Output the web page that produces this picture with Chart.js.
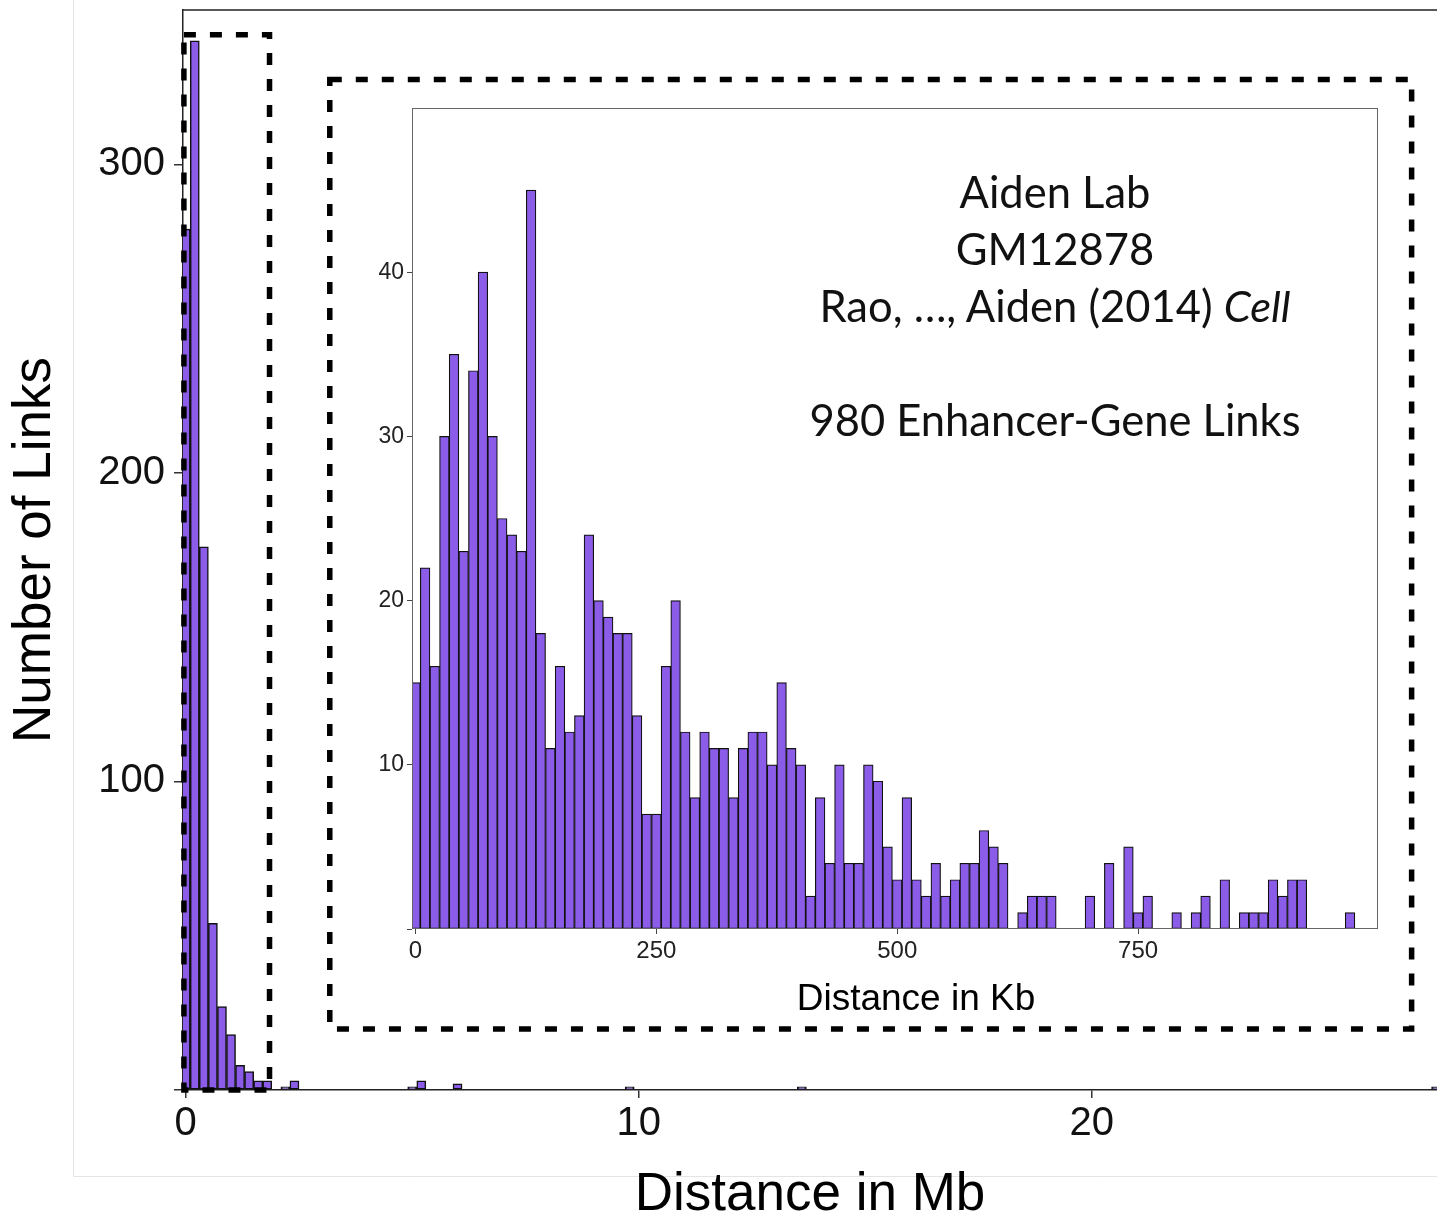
<!DOCTYPE html>
<html>
<head>
<meta charset="utf-8">
<script src="https://cdn.jsdelivr.net/npm/chart.js@4.4.1/dist/chart.umd.min.js"></script>
<style>
    html, body { margin: 0; padding: 0; background: #fff; }
    #stage { position: relative; width: 1437px; height: 1219px; overflow: hidden; }
    #main { position: absolute; left: 0; top: 0; }
    #inset { position: absolute; left: 340px; top: 100px; }
    #note {
        position: absolute; left: 780px; top: 163px; width: 550px;
        text-align: center; font-family: Lato, "Open Sans", sans-serif;
        font-size: 43.5px; line-height: 57px; color: #111;
    }
</style>
</head>
<body>
<div id="stage">
    <canvas id="main" width="1437" height="1219"></canvas>
    <canvas id="inset" width="1060" height="920"></canvas>
    <div id="note">
        Aiden Lab<br>
        GM12878<br>
        Rao, …, Aiden (2014) <i>Cell</i><br>
        <br>
        980 Enhancer-Gene Links
    </div>
</div>
<script>
    // main histogram, 0.2 Mb bins (empty bins left out)
    const mainBinCentersMb = [0, 0.2, 0.4, 0.6, 0.8, 1.0, 1.2, 1.4, 1.6, 1.8, 2.2, 2.4, 5.0, 5.2, 6.0, 9.8, 13.6, 27.6];
    const mainCounts = [279, 340, 176, 54, 27, 18, 8, 6, 3, 3, 1, 3, 1, 3, 2, 1, 1, 1];
    const mainXTicks = [0, 10, 20];
    const mainYTicks = [0, 100, 200, 300];

    // inset histogram, 10 Kb bins starting at 0 Kb
    const insetBinKb = 10;
    const insetCounts = [
        15, 22, 16, 30, 35, 23, 34, 40, 30, 25,
        24, 23, 45, 18, 11, 16, 12, 13, 24, 20,
        19, 18, 18, 13, 7, 7, 16, 20, 12, 8,
        12, 11, 11, 8, 11, 12, 12, 10, 15, 11,
        10, 2, 8, 4, 10, 4, 4, 10, 9, 5,
        3, 8, 3, 2, 4, 2, 3, 4, 4, 6,
        5, 4, 0, 1, 2, 2, 2, 0, 0, 0,
        2, 0, 4, 0, 5, 1, 2, 0, 0, 1,
        0, 1, 2, 0, 3, 0, 1, 1, 1, 3,
        2, 3, 3, 0, 0, 0, 0, 1
    ];
    const insetXTicks = [0, 250, 500, 750];
    const insetYTicks = [0, 10, 20, 30, 40];

    // zoom boxes, in data units of the main chart
    const zoomBoxes = [
        { x0: -0.04, x1: 1.85, y0: 0, y1: 342 },
        { x0: 3.18, x1: 27.06, y0: 19.8, y1: 327.5 }
    ];

    const barFill = "#8a5ce8";
    const sans = "'Liberation Sans', Arial, sans-serif";

    function noScalePadding(axis) {
        axis.paddingTop = 0;
        axis.paddingBottom = 0;
        axis.paddingLeft = 0;
        axis.paddingRight = 0;
    }

    const mainDecor = {
        id: "mainDecor",
        beforeDraw(chart) {
            const ctx = chart.ctx;
            ctx.save();
            ctx.strokeStyle = "#e4e4e4";
            ctx.lineWidth = 1;
            ctx.beginPath();
            ctx.moveTo(73.5, 0);
            ctx.lineTo(73.5, 1176.5);
            ctx.lineTo(1437, 1176.5);
            ctx.stroke();
            ctx.restore();
        },
        afterDraw(chart) {
            const { ctx, chartArea, scales } = chart;
            ctx.save();
            ctx.strokeStyle = "#222";
            ctx.lineWidth = 1.5;
            ctx.beginPath();
            ctx.moveTo(chartArea.left, chartArea.top);
            ctx.lineTo(chartArea.right, chartArea.top);
            ctx.stroke();

            ctx.strokeStyle = "#000";
            ctx.lineWidth = 5.5;
            ctx.setLineDash([12, 14]);
            zoomBoxes.forEach(box => {
                const left = scales.x.getPixelForValue(box.x0);
                const right = scales.x.getPixelForValue(box.x1);
                const top = scales.y.getPixelForValue(box.y1);
                const bottom = scales.y.getPixelForValue(box.y0);
                ctx.strokeRect(left, top, right - left, bottom - top);
            });
            ctx.restore();
        }
    };

    const insetFrame = {
        id: "insetFrame",
        afterDraw(chart) {
            const { ctx, chartArea } = chart;
            ctx.save();
            ctx.strokeStyle = "#666";
            ctx.lineWidth = 1;
            ctx.strokeRect(chartArea.left + 0.5, chartArea.top + 0.5,
                chartArea.right - chartArea.left - 1, chartArea.bottom - chartArea.top - 1);

            // x axis title, set a little right of the panel centre as in the source figure
            ctx.fillStyle = "#000";
            ctx.font = "37px " + sans;
            ctx.textAlign = "center";
            ctx.textBaseline = "middle";
            ctx.fillText("Distance in Kb", (chartArea.left + chartArea.right) / 2 + 21, chartArea.bottom + 71);
            ctx.restore();
        }
    };

    new Chart(document.getElementById("main"), {
        type: "bar",
        data: {
            datasets: [{
                data: mainBinCentersMb.map((x, i) => ({ x, y: mainCounts[i] })),
                backgroundColor: barFill,
                borderColor: "#111",
                borderWidth: 1.5,
                borderSkipped: false,
                barPercentage: 1,
                categoryPercentage: 1
            }]
        },
        options: {
            responsive: false,
            animation: false,
            layout: { padding: { top: 10, right: 0, left: 0, bottom: 0 } },
            plugins: { legend: { display: false }, tooltip: { enabled: false } },
            scales: {
                x: {
                    type: "linear",
                    min: -0.06,
                    max: 27.62,
                    offset: false,
                    afterBuildTicks: axis => { axis.ticks = mainXTicks.map(value => ({ value })); },
                    afterFit: axis => { axis.height = 129; noScalePadding(axis); },
                    grid: { offset: false, drawOnChartArea: false, tickLength: 8, color: "#333", lineWidth: 1.5 },
                    border: { display: true, color: "#222", width: 1.5 },
                    ticks: { font: { family: sans, size: 40 }, color: "#111", padding: 2, maxRotation: 0, autoSkip: false },
                    title: { display: true, text: "Distance in Mb", color: "#000", padding: 0,
                        font: { family: sans, size: 53, lineHeight: 0.9 } }
                },
                y: {
                    min: 0,
                    max: 350,
                    afterBuildTicks: axis => { axis.ticks = mainYTicks.map(value => ({ value })); },
                    afterFit: axis => { axis.width = 183; noScalePadding(axis); },
                    grid: { drawOnChartArea: false, tickLength: 9, color: "#333", lineWidth: 1.5 },
                    border: { display: true, color: "#222", width: 1.5 },
                    ticks: { font: { family: sans, size: 40 }, color: "#111", padding: 9,
                        callback: value => value === 0 ? "" : value },
                    title: { display: true, text: "Number of Links", color: "#000", padding: { top: 4, bottom: 0 },
                        font: { family: sans, size: 53, lineHeight: 1.2 } }
                }
            }
        },
        plugins: [mainDecor]
    });

    new Chart(document.getElementById("inset"), {
        type: "bar",
        data: {
            datasets: [{
                data: insetCounts.map((count, i) => ({ x: i * insetBinKb, y: count || null })),
                backgroundColor: barFill,
                borderColor: "#111",
                borderWidth: 1.2,
                borderSkipped: false,
                barPercentage: 1,
                categoryPercentage: 1
            }]
        },
        options: {
            responsive: false,
            animation: false,
            layout: { padding: { top: 8, right: 22, left: 0, bottom: 0 } },
            plugins: { legend: { display: false }, tooltip: { enabled: false } },
            scales: {
                x: {
                    type: "linear",
                    min: -3.6,
                    max: 999,
                    offset: false,
                    afterBuildTicks: axis => { axis.ticks = insetXTicks.map(value => ({ value })); },
                    afterFit: axis => { axis.height = 91; noScalePadding(axis); },
                    grid: { offset: false, drawOnChartArea: false, tickLength: 5, color: "#444" },
                    border: { display: false },
                    ticks: { font: { family: sans, size: 24 }, color: "#222", padding: 3, maxRotation: 0, autoSkip: false }
                },
                y: {
                    min: 0,
                    max: 50,
                    afterBuildTicks: axis => { axis.ticks = insetYTicks.map(value => ({ value })); },
                    afterFit: axis => { axis.width = 72; noScalePadding(axis); },
                    grid: { drawOnChartArea: false, tickLength: 5, color: "#444" },
                    border: { display: false },
                    ticks: { font: { family: sans, size: 23 }, color: "#222", padding: 3,
                        callback: value => value === 0 ? "" : value }
                }
            }
        },
        plugins: [insetFrame]
    });
</script>
</body>
</html>
